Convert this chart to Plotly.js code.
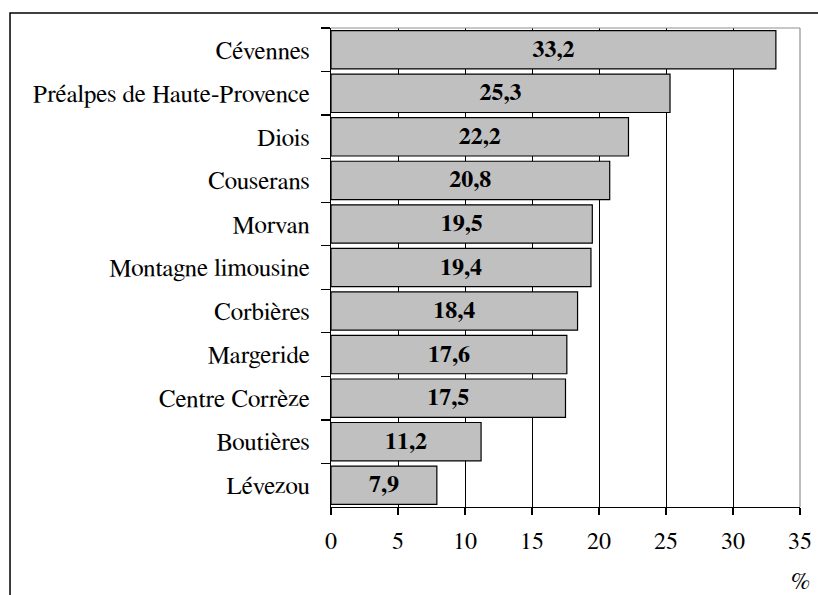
<!DOCTYPE html>
<html>
<head>
<meta charset="utf-8">
<script src="https://cdn.plot.ly/plotly-3.0.1.min.js"></script>
<style>html,body{margin:0;padding:0;background:#fff;}#chart{width:818px;height:595px;}</style>
</head>
<body>
<div id="chart"></div>
<script>
const categories = ["Cévennes","Préalpes de Haute-Provence","Diois","Couserans","Morvan","Montagne limousine","Corbières","Margeride","Centre Corrèze","Boutières","Lévezou"];
const values = [33.2,25.3,22.2,20.8,19.5,19.4,18.4,17.6,17.5,11.2,7.9];
const xTicks = [0,5,10,15,20,25,30,35];
const unitLabel = "%";

const serif = "FreeSerif, DejaVu Serif";

const trace = {
  type: "bar",
  orientation: "h",
  y: categories,
  x: values,
  marker: {color: "#c0c0c0", line: {color: "#000", width: 1.2}},
  texttemplate: "<b>%{x:.1f}</b>",
  textposition: "inside",
  insidetextanchor: "middle",
  textangle: 0,
  textfont: {family: serif, size: 24, color: "#000"},
  cliponaxis: false,
  hoverinfo: "none"
};

const layout = {
  width: 818, height: 595,
  margin: {l: 331, r: 18, t: 28, b: 88},
  paper_bgcolor: "#fff", plot_bgcolor: "#fff",
  separators: ", ",
  bargap: 0.12,
  showlegend: false,
  font: {family: serif, size: 24, color: "#000"},
  xaxis: {
    range: [0, 35], tickvals: xTicks, ticktext: xTicks.map(String),
    showgrid: true, gridcolor: "#000", gridwidth: 1,
    zeroline: false, showline: true, linecolor: "#000", linewidth: 1.2,
    ticks: "outside", ticklen: 7, tickcolor: "#000", tickwidth: 1.2,
    tickfont: {family: serif, size: 24, color: "#000"},
    ticklabelstandoff: 5,
    fixedrange: true
  },
  yaxis: {
    type: "category", autorange: "reversed",
    showgrid: false, zeroline: false, showline: true, linecolor: "#000", linewidth: 1.2,
    ticks: "outside", tickson: "boundaries", ticklen: 9, tickcolor: "#000", tickwidth: 1.2,
    tickfont: {family: serif, size: 25, color: "#000"},
    ticklabelstandoff: 15,
    fixedrange: true
  },
  shapes: [
    {type: "line", xref: "paper", yref: "paper", x0: 0, x1: 1, y0: 1, y1: 1, line: {color: "#909090", width: 1.2}},
    {type: "line", xref: "paper", yref: "paper", x0: 1, x1: 1, y0: 0, y1: 1, line: {color: "#909090", width: 1.2}},
    {type: "rect", xref: "paper", yref: "paper", x0: -0.6844, x1: 2, y0: -1, y1: 1.0313, line: {color: "#000", width: 1.5}, fillcolor: "rgba(0,0,0,0)"}
  ],
  annotations: [
    {text: unitLabel, xref: "paper", yref: "paper", x: 1, y: -0.1566, xanchor: "center", yanchor: "middle", showarrow: false, font: {family: serif, size: 24, color: "#000"}}
  ]
};

Plotly.newPlot("chart", [trace], layout, {displayModeBar: false, staticPlot: true});
</script>
</body>
</html>
